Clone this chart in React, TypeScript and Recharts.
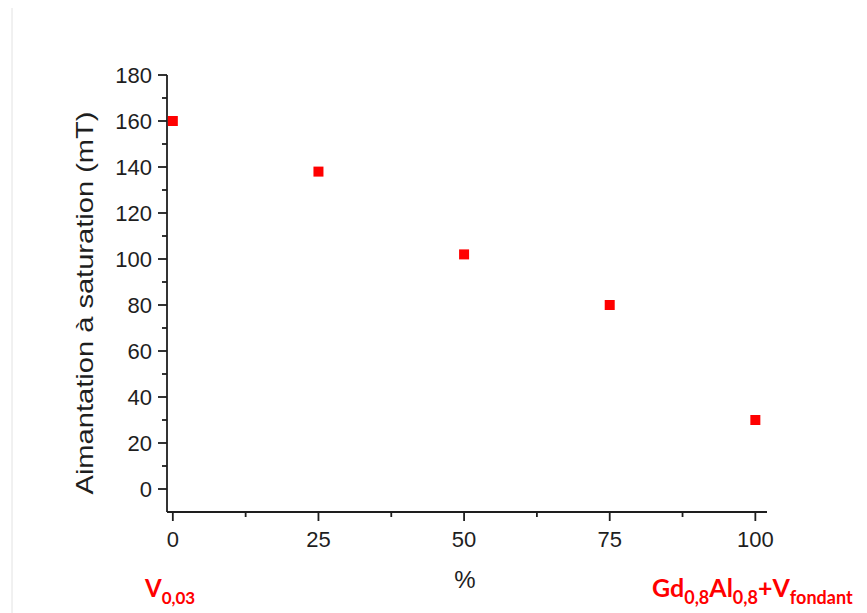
import { ScatterChart, Scatter, XAxis, YAxis } from 'recharts';

const PCT = [0, 25, 50, 75, 100];
const SATURATION = [160, 138, 102, 80, 30];
const X_TICKS = [0, 12.5, 25, 37.5, 50, 62.5, 75, 87.5, 100];
const X_LABELED = [0, 25, 50, 75, 100];
const Y_TICKS = [0, 10, 20, 30, 40, 50, 60, 70, 80, 90, 100, 110, 120, 130, 140, 150, 160, 170, 180];
const Y_LABELED = [0, 20, 40, 60, 80, 100, 120, 140, 160, 180];

const AXIS_FONT = '"Liberation Sans", Arial, sans-serif';
const INK = '#1e1e1e';
const RED = '#ff0000';

const data = PCT.map((pct, i) => ({ pct, sat: SATURATION[i] }));

function XTick({ x, y, payload }: any) {
  const major = X_LABELED.includes(payload.value);
  return (
    <g>
      <line x1={x} x2={x} y1={y} y2={y + (major ? 9 : 5)} stroke={INK} strokeWidth={1.8} />
      {major && (
        <text x={x} y={y + 35} textAnchor="middle" fontSize={22} fontFamily={AXIS_FONT} fill={INK}>
          {payload.value}
        </text>
      )}
    </g>
  );
}

function YTick({ x, y, payload }: any) {
  const major = Y_LABELED.includes(payload.value);
  return (
    <g>
      <line x1={x - (major ? 9 : 5)} x2={x} y1={y} y2={y} stroke={INK} strokeWidth={1.8} />
      {major && (
        <text x={x - 15} y={y + 8} textAnchor="end" fontSize={22} fontFamily={AXIS_FONT} fill={INK}>
          {payload.value}
        </text>
      )}
    </g>
  );
}

function SquareDot({ cx, cy }: any) {
  return <rect x={cx - 5} y={cy - 5} width={10} height={10} fill={RED} />;
}

export default function App() {
  return (
    <div style={{ position: 'absolute', left: 0, top: 0, width: 867, height: 613, background: '#fff' }}>
      <ScatterChart width={867} height={613} margin={{ top: 75, left: 166, right: 100, bottom: 100 }}>
        <XAxis
          type="number"
          dataKey="pct"
          domain={[-1, 102]}
          ticks={X_TICKS}
          interval={0}
          height={1}
          tickSize={0}
          tickMargin={0}
          tick={<XTick />}
          tickLine={false}
          axisLine={{ stroke: INK, strokeWidth: 1.8 }}
          label={{
            content: ({ viewBox }: any) => (
              <text x={viewBox.x + viewBox.width / 2 - 2} y={588} textAnchor="middle" fontSize={24} fontFamily={AXIS_FONT} fill={INK}>
                %
              </text>
            ),
          }}
        />
        <YAxis
          type="number"
          dataKey="sat"
          domain={[-10, 180]}
          ticks={Y_TICKS}
          interval={0}
          width={1}
          tickSize={0}
          tickMargin={0}
          tick={<YTick />}
          tickLine={false}
          axisLine={{ stroke: INK, strokeWidth: 1.8 }}
          label={{
            content: () => (
              <text
                transform="translate(93, 303) rotate(-90)"
                textAnchor="middle"
                fontSize={24}
                fontFamily={AXIS_FONT}
                fill={INK}
                textLength={383}
                lengthAdjust="spacingAndGlyphs"
              >
                Aimantation à saturation (mT)
              </text>
            ),
          }}
        />
        <Scatter data={data} fill={RED} shape={<SquareDot />} isAnimationActive={false} />
      </ScatterChart>
      <svg
        width={867}
        height={613}
        style={{ position: 'absolute', left: 0, top: 0, pointerEvents: 'none' }}
      >
        <line x1={12} x2={12} y1={8} y2={613} stroke="#e2e2e2" strokeWidth={1} />
        <text x={145} y={597} fontFamily='Lato, "Open Sans", sans-serif' fontWeight="bold" fontSize={24} fill={RED}>
          V<tspan fontSize={17} dy={7}>0,03</tspan>
        </text>
        <text x={652} y={597} fontFamily='Lato, "Open Sans", sans-serif' fontWeight="bold" fontSize={25} fill={RED}>
          Gd<tspan fontSize={18} dy={7}>0,8</tspan>
          <tspan dy={-7}>Al</tspan>
          <tspan fontSize={18} dy={7}>0,8</tspan>
          <tspan dy={-7}>+V</tspan>
          <tspan fontSize={18} dy={7}>fondant</tspan>
        </text>
      </svg>
    </div>
  );
}
